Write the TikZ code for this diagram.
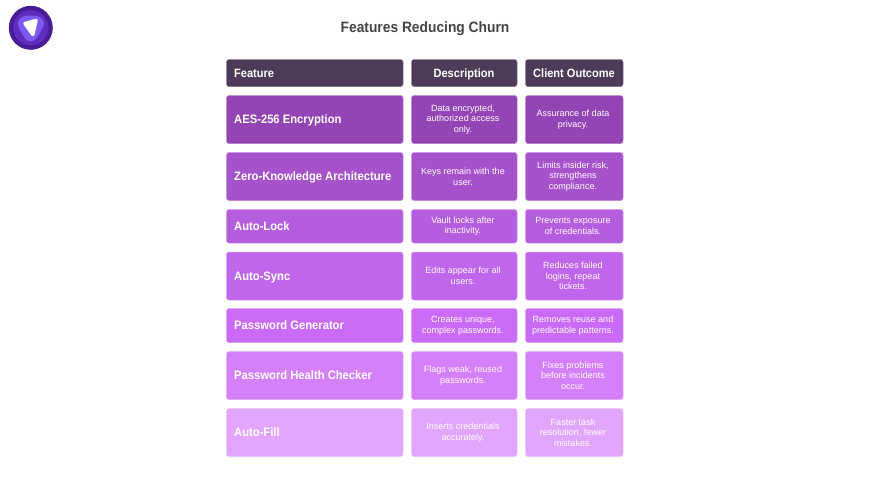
\documentclass[tikz,border=0pt]{standalone}
\usepackage{fontspec}
\setmainfont{Liberation Sans}
\newfontfamily\narrowfont[FakeStretch=0.92]{Liberation Sans}
\definecolor{hd}{HTML}{4E3B58}
\definecolor{ra}{HTML}{9345B5}
\definecolor{rb}{HTML}{A552CB}
\definecolor{rc}{HTML}{B45EDF}
\definecolor{rd}{HTML}{C066EC}
\definecolor{re}{HTML}{C96BF6}
\definecolor{rf}{HTML}{D580FB}
\definecolor{rg}{HTML}{E2A5FC}
\definecolor{titlec}{HTML}{444444}
\tikzset{
  cellbox/.style={rounded corners=2.5pt,draw=#1!70!white,fill=#1,line width=0.5pt},
  feat/.style={anchor=base west,inner sep=0pt,text=white,font=\fontsize{12.2}{14}\narrowfont\bfseries},
  desc/.style={align=center,inner sep=0pt,text=white,font=\fontsize{9}{10.7}\selectfont},
  head/.style={anchor=base,inner sep=0pt,text=white,font=\fontsize{12}{14}\narrowfont\bfseries},
}
\newcommand{\cellrow}[7]{% name, colour, top, bottom, feature, description, outcome
  \path[cellbox=#2] (226.5,#3) rectangle (403,#4);
  \path[cellbox=#2] (411.5,#3) rectangle (517,#4);
  \path[cellbox=#2] (525.5,#3) rectangle (623,#4);
  \node[feat] (#1f) at (234,{(#3+#4)/2+4.2}) {#5};
  \node[desc] (#1d) at (463,{(#3+#4)/2}) {#6};
  \node[desc] (#1o) at (573,{(#3+#4)/2}) {#7};
}
\begin{document}
\begin{tikzpicture}[x=1pt,y=-1pt]
\useasboundingbox (0,0) rectangle (876,493);
\fill[white] (0,0) rectangle (876,493);
% logo
\fill[fill={rgb,255:red,74;green,29;blue,150}] (30.8,27.8) circle (22);
\fill[fill={rgb,255:red,94;green,45;blue,190}] (30.8,27.8) circle (17.5);
\fill[fill={rgb,255:red,122;green,90;blue,240}] plot[smooth cycle,tension=0.8] coordinates {(19,20) (31,15.5) (43,20) (41,31) (31,41.5) (21,32)};
\filldraw[white,line width=3.5pt,line join=round] (25,23.5) -- (36,20.5) -- (32.8,34.5) -- cycle;
% title
\node[inner sep=0pt,anchor=base,text=titlec,font=\fontsize{15}{16}\narrowfont\bfseries] (title) at (425,32) {Features Reducing Churn};
% header
\path[cellbox=hd] (226.5,59.5) rectangle (403,86.5);
\path[cellbox=hd] (411.5,59.5) rectangle (517,86.5);
\path[cellbox=hd] (525.5,59.5) rectangle (623,86.5);
\node[head,anchor=base west] (hf) at (234,77.3) {Feature};
\node[head] (hd) at (464,77.3) {Description};
\node[head] (ho) at (574,77.3) {Client Outcome};
% rows
\cellrow{a}{ra}{95.5}{143.5}{AES-256 Encryption}{Data encrypted,\\authorized access\\only.}{Assurance of data\\privacy.}
\cellrow{b}{rb}{152.5}{200.5}{Zero-Knowledge Architecture}{Keys remain with the\\user.}{Limits insider risk,\\strengthens\\compliance.}
\cellrow{c}{rc}{209.5}{243}{Auto-Lock}{Vault locks after\\inactivity.}{Prevents exposure\\of credentials.}
\cellrow{d}{rd}{252}{300}{Auto-Sync}{Edits appear for all\\users.}{Reduces failed\\logins, repeat\\tickets.}
\cellrow{e}{re}{308.5}{342.5}{Password Generator}{Creates unique,\\complex passwords.}{Removes reuse and\\predictable patterns.}
\cellrow{f}{rf}{351.5}{399.5}{Password Health Checker}{Flags weak, reused\\passwords.}{Fixes problems\\before incidents\\occur.}
\cellrow{g}{rg}{408.5}{456.5}{Auto-Fill}{Inserts credentials\\accurately.}{Faster task\\resolution, fewer\\mistakes.}
\end{tikzpicture}
\end{document}
